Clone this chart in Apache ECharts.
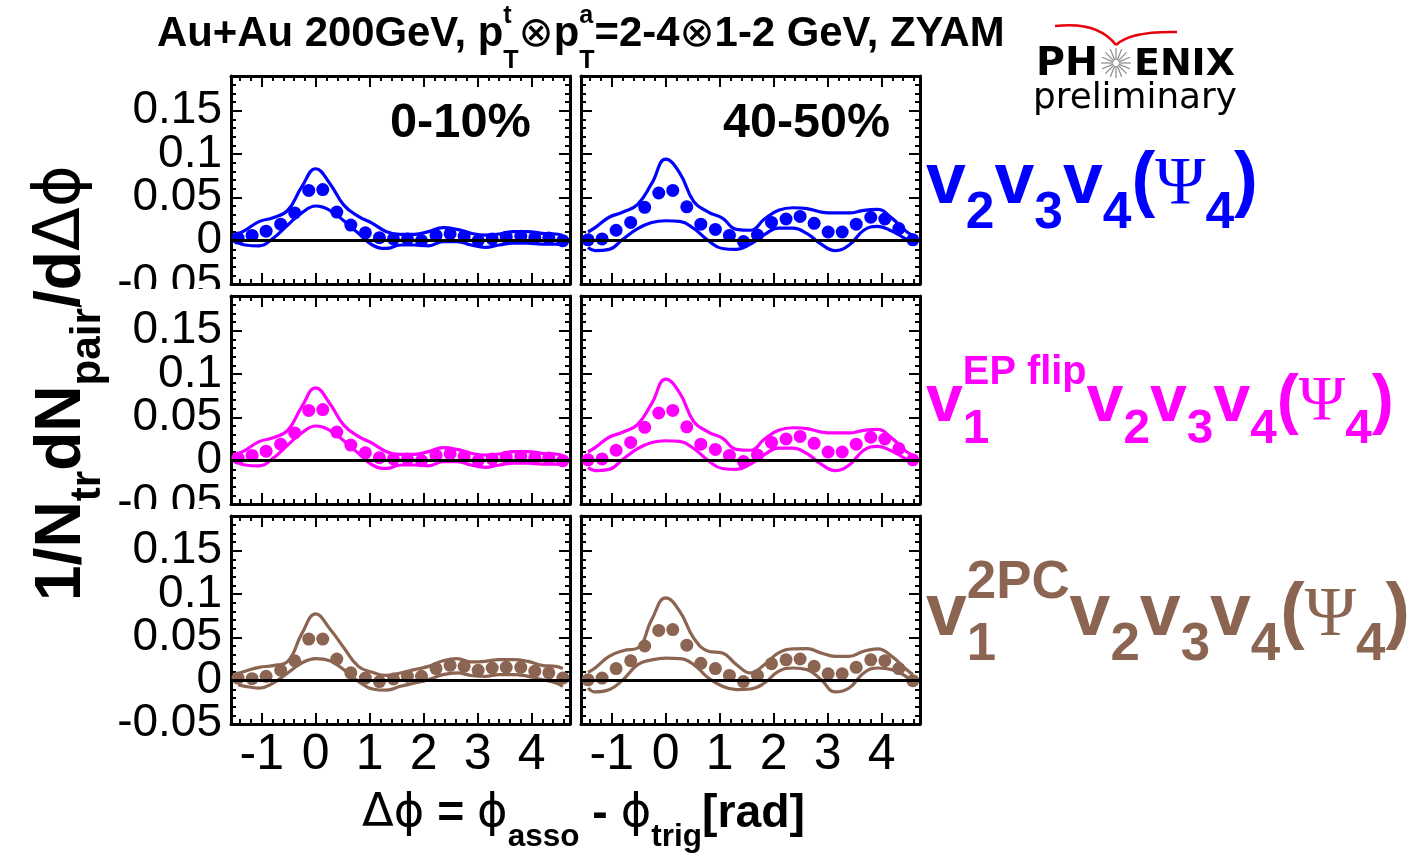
<!DOCTYPE html>
<html><head><meta charset="utf-8">
<script src="https://cdn.jsdelivr.net/npm/echarts@6/dist/echarts.min.js"></script>
<style>html,body{margin:0;padding:0;background:#fff}#c{width:1420px;height:860px}</style>
</head><body><div id="c"></div><script>
// ---------------- data ----------------
const binCenters = [-1.44,-1.18,-0.92,-0.65,-0.39,-0.13,0.13,0.39,0.65,0.92,1.18,1.44,1.70,1.96,2.23,2.49,2.75,3.01,3.27,3.53,3.80,4.06,4.32,4.58];
const bandX = [-1.44,-1.31,-1.05,-0.79,-0.52,-0.26,0,0.26,0.52,0.79,1.05,1.31,1.57,1.83,2.09,2.36,2.62,2.88,3.14,3.40,3.67,3.93,4.19,4.45,4.58];
const yTickValues = [-0.05, 0, 0.05, 0.1, 0.15];
const xTickValues = [-1, 0, 1, 2, 3, 4];

const blue010Dots  = [0.003,0.006,0.011,0.019,0.032,0.058,0.059,0.033,0.018,0.009,0.0035,0.002,0.002,0.000,0.006,0.008,0.005,0.000,0.002,0.004,0.005,0.0035,0.003,0.000];
const blue010Upper = [0.0077,0.012,0.022,0.0265,0.035,0.062,0.083,0.066,0.041,0.028,0.020,0.0104,0.0073,0.0073,0.0104,0.015,0.013,0.0085,0.0065,0.0077,0.0104,0.0104,0.0085,0.0077,0.006];
const blue010Lower = [-0.0023,-0.005,-0.006,0.0027,0.018,0.032,0.040,0.035,0.023,0.0085,-0.005,-0.009,-0.005,-0.005,-0.006,-0.001,-0.001,-0.005,-0.0077,-0.005,-0.003,-0.003,-0.004,-0.004,-0.0058];

const blue4050Dots  = [0.001,0.002,0.012,0.021,0.0385,0.055,0.058,0.039,0.019,0.013,0.006,-0.001,0.0065,0.021,0.025,0.028,0.020,0.010,0.010,0.019,0.027,0.025,0.014,0.001];
const blue4050Upper = [0.010,0.015,0.027,0.033,0.042,0.066,0.094,0.078,0.045,0.033,0.026,0.013,0.012,0.025,0.035,0.038,0.037,0.033,0.032,0.032,0.035,0.036,0.026,0.011,0.006];
const blue4050Lower = [-0.008,-0.0115,-0.010,0.002,0.014,0.021,0.023,0.0222,0.014,0.000,-0.009,-0.010,-0.004,0.007,0.0145,0.0145,0.008,-0.004,-0.0115,-0.005,0.012,0.0165,0.011,0.002,-0.002];

const mag010Dots  = [0.003,0.006,0.011,0.019,0.032,0.058,0.059,0.033,0.018,0.009,0.0035,0.002,0.002,0.000,0.006,0.008,0.005,0.000,0.002,0.004,0.005,0.0035,0.003,0.000];
const mag010Upper = [0.0077,0.012,0.022,0.0265,0.035,0.062,0.084,0.066,0.041,0.028,0.020,0.0104,0.0073,0.0073,0.0104,0.015,0.013,0.0085,0.0065,0.0077,0.0104,0.0104,0.0085,0.0077,0.006];
const mag010Lower = [-0.0023,-0.005,-0.006,0.0027,0.018,0.032,0.040,0.035,0.023,0.0085,-0.005,-0.009,-0.005,-0.005,-0.006,-0.001,-0.001,-0.005,-0.0077,-0.005,-0.003,-0.003,-0.004,-0.004,-0.0058];

const mag4050Dots  = [0.001,0.002,0.012,0.021,0.0385,0.055,0.058,0.039,0.019,0.013,0.006,-0.001,0.0065,0.021,0.025,0.028,0.020,0.010,0.010,0.019,0.027,0.025,0.014,0.001];
const mag4050Upper = [0.010,0.015,0.027,0.033,0.042,0.066,0.094,0.078,0.045,0.033,0.026,0.013,0.012,0.025,0.035,0.038,0.037,0.033,0.032,0.032,0.035,0.036,0.026,0.011,0.006];
const mag4050Lower = [-0.008,-0.0115,-0.010,0.002,0.014,0.021,0.023,0.0222,0.014,0.000,-0.009,-0.010,-0.004,0.007,0.0145,0.0145,0.008,-0.004,-0.0115,-0.005,0.012,0.0165,0.011,0.002,-0.002];

const brown010Dots  = [0.003,0.0023,0.005,0.012,0.023,0.048,0.048,0.025,0.009,0.003,-0.001,0.002,0.005,0.005,0.014,0.0177,0.0165,0.012,0.0146,0.0154,0.0154,0.011,0.009,0.003];
const brown010Upper = [0.008,0.0108,0.0154,0.0173,0.0223,0.054,0.077,0.060,0.038,0.0165,0.0096,0.006,0.0089,0.0127,0.0165,0.023,0.0254,0.0216,0.0223,0.0243,0.0243,0.0223,0.0177,0.0165,0.0139];
const brown010Lower = [-0.0046,-0.0065,-0.0085,-0.0027,0.0089,0.0204,0.0254,0.023,0.0127,-0.0008,-0.0096,-0.011,-0.0065,-0.0027,0.0012,0.007,0.0089,0.006,0.005,0.007,0.007,0.005,0.0012,-0.0027,-0.0065];

const brown4050Dots  = [0.001,0.003,0.014,0.023,0.040,0.058,0.059,0.041,0.020,0.014,0.006,-0.001,0.006,0.0196,0.024,0.025,0.0165,0.008,0.008,0.0154,0.024,0.023,0.014,0.000];
const brown4050Upper = [0.0096,0.0146,0.028,0.0346,0.0377,0.0704,0.0955,0.080,0.049,0.034,0.032,0.0185,0.0089,0.0185,0.032,0.0366,0.037,0.032,0.028,0.028,0.034,0.0366,0.028,0.0135,0.007];
const brown4050Lower = [-0.0085,-0.013,-0.0104,0.0012,0.0185,0.024,0.026,0.0254,0.0185,0.003,-0.0065,-0.0104,-0.0096,-0.0027,0.0108,0.0146,0.0127,0.0012,-0.013,-0.0085,0.0089,0.0146,0.0127,0.005,-0.0027];

const centralityLabels = ['0-10%', '40-50%'];
const yTickStep = 0.05;
const Y_MIN = -0.05, Y_MAX = 0.19;

// ---------------- styling ----------------
const BLUE = '#0000ff', MAGENTA = '#ff00ff', BROWN = '#8b6552';
const SANS = '"Liberation Sans", Arial, Helvetica, sans-serif';
const NARROW = '"Liberation Sans Narrow", "Liberation Sans", Arial, sans-serif';
const DEJAVU = '"DejaVu Sans", sans-serif';
const SERIF = '"Liberation Serif", "DejaVu Serif", serif';

const panels = [
  {dots: blue010Dots,   up: blue010Upper,   lo: blue010Lower,   color: BLUE},
  {dots: blue4050Dots,  up: blue4050Upper,  lo: blue4050Lower,  color: BLUE},
  {dots: mag010Dots,    up: mag010Upper,    lo: mag010Lower,    color: MAGENTA},
  {dots: mag4050Dots,   up: mag4050Upper,   lo: mag4050Lower,   color: MAGENTA},
  {dots: brown010Dots,  up: brown010Upper,  lo: brown010Lower,  color: BROWN},
  {dots: brown4050Dots, up: brown4050Upper, lo: brown4050Lower, color: BROWN}
];

const gridLefts = [231, 581];
const gridTops = [76, 296, 516];
const GW = 339, GH = 208;

// label-only axis: a hair of extra range below so that the first (empty) label is
// the "min label" and the real -0.05 label is not dropped by overlap handling
const LABEL_MIN = Y_MIN - 0.0004;
const labelValues = [LABEL_MIN].concat(yTickValues, [Y_MAX]);
function yLabelText(v) {
  const k = Math.round(v / yTickStep);
  if (Math.abs(v / yTickStep - k) > 1e-6) return '';
  if (k === 0) return '0';
  return String(+(k * yTickStep).toFixed(2));
}

const grids = [], xAxes = [], yAxes = [], series = [];
panels.forEach((p, i) => {
  const row = Math.floor(i / 2), col = i % 2;
  grids.push({left: gridLefts[col], top: gridTops[row], width: GW, height: GH, containLabel: false});
  const xCommon = (pos, showLabel) => ({
    type: 'value', gridIndex: i, position: pos, min: -Math.PI / 2, max: 1.5 * Math.PI,
    splitNumber: 6, minInterval: 1, maxInterval: 1,
    axisLine: {show: true, onZero: false, lineStyle: {color: '#000', width: 3}},
    axisTick: {show: true, inside: true, length: 11, lineStyle: {color: '#000', width: 2}},
    minorTick: {show: true, splitNumber: 5, length: 5, lineStyle: {color: '#000', width: 2}},
    splitLine: {show: false}, minorSplitLine: {show: false},
    axisLabel: {show: showLabel, customValues: xTickValues, hideOverlap: false,
      fontSize: 50, fontFamily: NARROW, color: '#000', margin: 6,
      formatter: v => String(Math.round(v))}
  });
  xAxes.push(xCommon('bottom', row === 2));
  xAxes.push(xCommon('top', false));
  const yFrame = (pos) => ({
    type: 'value', gridIndex: i, position: pos, min: Y_MIN, max: Y_MAX, interval: yTickStep,
    axisLine: {show: true, onZero: false, lineStyle: {color: '#000', width: 3}},
    axisTick: {show: true, inside: true, length: 11, lineStyle: {color: '#000', width: 2}},
    minorTick: {show: true, splitNumber: 5, length: 5, lineStyle: {color: '#000', width: 2}},
    splitLine: {show: false}, minorSplitLine: {show: false},
    axisLabel: {show: false}
  });
  yAxes.push(yFrame('left'));
  yAxes.push(yFrame('right'));
  yAxes.push({
    type: 'value', gridIndex: i, position: 'left', min: LABEL_MIN, max: Y_MAX,
    axisLine: {show: false, onZero: false}, axisTick: {show: false}, minorTick: {show: false},
    splitLine: {show: false},
    axisLabel: {show: col === 0, customValues: labelValues, showMinLabel: true, showMaxLabel: true,
      hideOverlap: false, fontSize: 46, fontFamily: SANS, color: '#000', margin: 9,
      formatter: v => (v < Y_MIN - 1e-6 || v > 0.17) ? '' : yLabelText(v)}
  });

  const yi = 3 * i;
  series.push({type: 'line', xAxisIndex: 2 * i, yAxisIndex: yi, data: bandX.map((x, j) => [x, p.up[j]]),
    smooth: 0.45, symbol: 'none', silent: true, z: 3, lineStyle: {color: p.color, width: 3.2}});
  series.push({type: 'line', xAxisIndex: 2 * i, yAxisIndex: yi, data: bandX.map((x, j) => [x, p.lo[j]]),
    smooth: 0.45, symbol: 'none', silent: true, z: 3, lineStyle: {color: p.color, width: 3.2}});
  series.push({type: 'scatter', xAxisIndex: 2 * i, yAxisIndex: yi, data: binCenters.map((x, j) => [x, p.dots[j]]),
    symbol: 'circle', symbolSize: 13, silent: true, z: 4, itemStyle: {color: p.color, opacity: 1},
    markLine: {silent: true, symbol: 'none', label: {show: false}, animation: false,
      lineStyle: {color: '#000', width: 3, type: 'solid'}, data: [{yAxis: 0}]}});
});

// ---------------- text layout helpers ----------------
const mctx = document.createElement('canvas').getContext('2d');
function measure(t, size, weight, family) {
  mctx.font = `${weight} ${size}px ${family}`;
  return mctx.measureText(t).width;
}
function buildRun(pieces, base, color) {
  let x = 0, pend = 0, stacked = false;
  const items = [];
  for (const p of pieces) {
    const size = base * (p.k || 1), w = p.w || 'bold', f = p.f || SANS;
    const width = measure(p.t, size, w, f);
    items.push({t: p.t, x, size, dy: (p.dy || 0) * base, w, f, c: p.c || color});
    if (p.stack) { pend = width; stacked = true; }
    else { x += Math.max(width, stacked ? pend : 0); stacked = false; pend = 0; }
  }
  return {items, width: x};
}
function runElements(pieces, x0, baseline, targetW, color) {
  const r0 = buildRun(pieces, 40, color);
  const base = 40 * targetW / r0.width;
  const r = buildRun(pieces, base, color);
  return r.items.map(it => ({
    type: 'text', x: x0 + it.x, y: baseline + it.dy - 0.34 * it.size, z: 60,
    style: {text: it.t, fill: it.c, fontSize: it.size, fontWeight: it.w, fontFamily: it.f,
      align: 'left', verticalAlign: 'middle'}
  }));
}
const SUP = (t, k, dy, extra) => Object.assign({t, k, dy, stack: true}, extra || {});
const SUB = (t, k, dy, extra) => Object.assign({t, k, dy}, extra || {});

const graphics = [];
// title
graphics.push(...runElements([
  {t: 'Au+Au 200GeV, p'}, SUP('t', 0.6, -0.58), SUB('T', 0.6, 0.5),
  {t: '⊗', f: DEJAVU, w: 'normal'}, {t: 'p'}, SUP('a', 0.6, -0.58), SUB('T', 0.6, 0.5),
  {t: '=2-4'}, {t: '⊗', f: DEJAVU, w: 'normal'}, {t: '1-2 GeV, ZYAM'}
], 157, 49, 848, '#000'));

// centrality labels
graphics.push(...runElements([{t: centralityLabels[0]}], 390, 140, 141, '#000'));
graphics.push(...runElements([{t: centralityLabels[1]}], 723, 140, 167, '#000'));

// right-hand labels
const vTail = () => [
  {t: 'v'}, SUB('2', 0.72, 0.32), {t: 'v'}, SUB('3', 0.72, 0.32), {t: 'v'}, SUB('4', 0.72, 0.32),
  {t: '('}, {t: 'Ψ', f: SERIF, w: 'normal', k: 0.95}, SUB('4', 0.72, 0.32), {t: ')'}
];
graphics.push(...runElements(vTail(), 926, 208, 332, BLUE));
graphics.push(...runElements([{t: 'v'}, SUP('EP flip', 0.6, -0.58), SUB('1', 0.72, 0.32)].concat(vTail()), 926, 425, 468, MAGENTA));
graphics.push(...runElements([{t: 'v'}, SUP('2PC', 0.72, -0.52), SUB('1', 0.72, 0.32)].concat(vTail()), 926, 640, 484, BROWN));

// x axis title
graphics.push(...runElements([
  {t: 'Δϕ', f: DEJAVU, w: 'normal'}, {t: ' = '}, {t: 'ϕ', f: DEJAVU, w: 'normal'}, SUB('asso', 0.68, 0.38),
  {t: ' - '}, {t: 'ϕ', f: DEJAVU, w: 'normal'}, SUB('trig', 0.68, 0.38), {t: '[rad]'}
], 362, 830, 443, '#000'));

// y axis title (rotated)
const yTitle = runElements([
  {t: '1/N'}, SUB('tr', 0.66, 0.3), {t: 'dN'}, SUB('pair', 0.66, 0.3), {t: '/d'},
  {t: 'Δϕ', f: DEJAVU, w: 'normal'}
], 0, 0, 436, '#000');
graphics.push({type: 'group', x: 84, y: 601, rotation: Math.PI / 2, children: yTitle});

// clip the cut-off "-0.05" labels of the upper two rows
graphics.push({type: 'rect', z: 100, shape: {x: 80, y: 289, width: 148, height: 16}, style: {fill: '#fff'}});
graphics.push({type: 'rect', z: 100, shape: {x: 80, y: 509, width: 148, height: 16}, style: {fill: '#fff'}});

// PHENIX preliminary logo
graphics.push(...runElements([{t: 'PH', f: DEJAVU}], 1036, 78, 62, '#000'));
graphics.push(...runElements([{t: 'ENIX', f: DEJAVU}], 1134, 78, 101, '#000'));
graphics.push(...runElements([{t: 'preliminary', f: DEJAVU, w: 'normal'}], 1033, 111, 204, '#000'));
const starCx = 1116, starCy = 63;
for (let k = 0; k < 16; k++) {
  const a = k * Math.PI / 8;
  graphics.push({type: 'line', z: 60, shape: {x1: starCx + 3 * Math.cos(a), y1: starCy + 3 * Math.sin(a),
    x2: starCx + 15 * Math.cos(a), y2: starCy + 15 * Math.sin(a)}, style: {stroke: '#8a8a8a', lineWidth: 1.2}});
}
graphics.push({type: 'bezierCurve', z: 60, shape: {x1: 1055, y1: 26, x2: 1116, y2: 45, cpx1: 1098, cpy1: 21},
  style: {stroke: '#e8000b', lineWidth: 2.5, fill: null}});
graphics.push({type: 'bezierCurve', z: 60, shape: {x1: 1116, y1: 45, x2: 1177, y2: 32, cpx1: 1130, cpy1: 31},
  style: {stroke: '#e8000b', lineWidth: 2.5, fill: null}});

const chart = echarts.init(document.getElementById('c'), null, {renderer: 'canvas'});
chart.setOption({
  animation: false,
  backgroundColor: '#fff',
  grid: grids, xAxis: xAxes, yAxis: yAxes, series: series,
  graphic: {elements: graphics}
});
</script></body></html>
